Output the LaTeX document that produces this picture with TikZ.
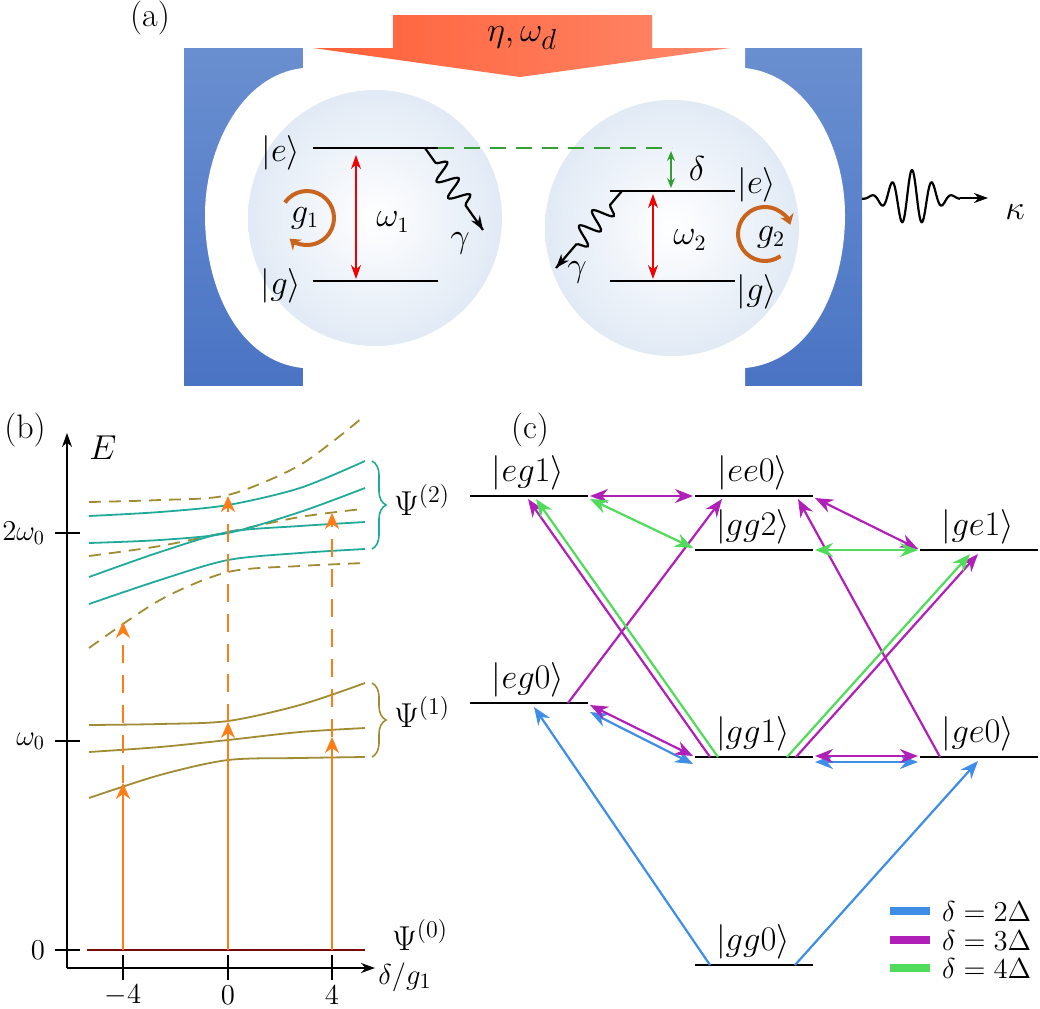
\documentclass[tikz,border=0pt]{standalone}
\usepackage{amsmath}
\usepackage{amssymb}
\usetikzlibrary{arrows.meta,calc,decorations.pathmorphing,decorations.pathreplacing,shadings}

\definecolor{mirrorT}{RGB}{106,143,208}
\definecolor{mirrorB}{RGB}{74,116,196}
\definecolor{pumpL}{RGB}{255,96,56}
\definecolor{pumpR}{RGB}{255,136,106}
\definecolor{atom}{RGB}{225,234,245}
\definecolor{lvlred}{RGB}{240,0,0}
\definecolor{gcol}{RGB}{200,100,30}
\definecolor{dgreen}{RGB}{50,160,50}
\definecolor{olive}{RGB}{160,140,50}
\definecolor{teal2}{RGB}{32,170,154}
\definecolor{orng}{RGB}{255,125,20}
\definecolor{dred}{RGB}{120,10,10}
\definecolor{cblue}{RGB}{62,142,232}
\definecolor{cmag}{RGB}{176,32,184}
\definecolor{cgreen}{RGB}{80,220,90}

\tikzset{
  level/.style={line width=1.2pt},
  lbl/.style={font=\fontsize{16}{19}\selectfont,inner sep=1pt},
  klbl/.style={font=\fontsize{17}{20}\selectfont,inner sep=1pt},
  tip/.style={-{Stealth[length=7pt,width=5pt]}},
  dtip/.style={{Stealth[length=7pt,width=5pt]}-{Stealth[length=7pt,width=5pt]}},
  ctip/.style={line width=1.1pt,-{Stealth[length=9pt,width=7pt]}},
  cdtip/.style={line width=1.1pt,{Stealth[length=9pt,width=7pt]}-{Stealth[length=9pt,width=7pt]}},
  curve/.style={line width=0.9pt},
  emit/.style={decorate,decoration={snake,amplitude=5pt,segment length=10pt,pre length=9pt,post length=14pt},line width=1.1pt},
}

\begin{document}
\begin{tikzpicture}[x=0.5pt,y=-0.5pt]
\useasboundingbox (0,0) rectangle (1040,1008);

% (a) cavity mirrors
\shade[top color=mirrorT,bottom color=mirrorB] (184,48) rectangle (303,385);
\shade[top color=mirrorT,bottom color=mirrorB] (745,48) rectangle (862,385);
\fill[white] (303,48) -- (303,68) .. controls (240,75) and (205,150) .. (205,215) .. controls (205,290) and (240,362) .. (303,368) -- (303,386) -- (745,386) -- (745,368) .. controls (810,362) and (845,290) .. (845,215) .. controls (845,150) and (810,75) .. (745,68) -- (745,48) -- cycle;
% pump arrow
\shade[left color=pumpL,right color=pumpR] (393,15) -- (652,15) -- (652,48) -- (730,48) -- (520,77) -- (313,48) -- (393,48) -- cycle;
\node[font=\fontsize{19}{22}\selectfont] (pump) at (522,38) {$\eta,\omega_d$};
% atoms
\shade[inner color=white,outer color=atom] (375,218) ellipse (127 and 128);
\shade[inner color=white,outer color=atom] (672,228) ellipse (127 and 128);
\node[font=\fontsize{17}{20}\selectfont] (la) at (150,18) {(a)};

% left atom
\draw[level] (313,148) -- (438,148);
\draw[level] (313,281) -- (438,281);
\node[lbl] (e1) at (281,153) {$|e\rangle$};
\node[lbl] (g1s) at (281,286) {$|g\rangle$};
\draw[lvlred,thick,dtip] (356,155) -- (356,279);
\node[lbl] (w1) at (393,222) {$\omega_1$};
\coordinate (c1) at (307,218);
\draw[gcol,line width=2pt,-{Stealth[length=5pt,width=7pt]}] ($(c1)+(145:13.5pt)$) arc[start angle=145,end angle=-130,radius=13.5pt];
\node[lbl] (gg1) at (305,218) {$g_1$};
\draw[emit] (425,148) -- (483,230);
\draw[line width=1.1pt,tip] (478,222) -- (483,230);
\node[lbl] (ga1) at (460,243) {$\gamma$};
\draw[dgreen,thick,dashed,dash pattern=on 8pt off 5pt] (438,148) -- (672,148);

% right atom
\draw[level] (610,191) -- (735,191);
\draw[level] (610,281) -- (735,281);
\node[lbl] (e2) at (757,185) {$|e\rangle$};
\node[lbl] (g2s) at (757,292) {$|g\rangle$};
\draw[dgreen,thick,{Stealth[length=5pt,width=4pt]}-{Stealth[length=5pt,width=4pt]}] (671,151) -- (671,188);
\node[lbl] (dl) at (697,168) {$\delta$};
\draw[lvlred,thick,dtip] (653,194) -- (653,279);
\node[lbl] (w2) at (690,240) {$\omega_2$};
\coordinate (c2) at (765,234);
\draw[gcol,line width=2pt,-{Stealth[length=5pt,width=7pt]}] ($(c2)+(-55:13.5pt)$) arc[start angle=-55,end angle=-340,radius=13.5pt];
\node[lbl] (gg2) at (771,237) {$g_2$};
\draw[emit] (622,191) -- (556,268);
\draw[line width=1.1pt,tip] (562,261) -- (556,268);
\node[lbl] (ga2) at (577,272) {$\gamma$};
% emission
\draw[line width=1.1pt] plot[domain=862:960,samples=250] (\x,{198-28*exp(-((\x-912)/26)^2)*cos(deg((\x-912)/3.2))});
\draw[line width=1.1pt,tip] (960,198) -- (988,198);
\node[font=\fontsize{19}{22}\selectfont] (kap) at (1015,212) {$\kappa$};

% (b) spectrum
\node[font=\fontsize{17}{20}\selectfont] (lb) at (25,430) {(b)};
\draw[thick,tip] (67,968) -- (67,433);
\draw[thick,tip] (67,968) -- (375,968);
\node[klbl] (E) at (103,448) {$E$};
\foreach \yy/\tx in {533/2\omega_0,741/\omega_0,950/0}{
  \draw[thick] (55,\yy) -- (80,\yy);
  \node[font=\fontsize{14}{17}\selectfont,anchor=east] at (52,\yy) {$\tx$};
}
\foreach \xx/\tx in {123/-4,228/0,332/4}{
  \draw[thick] (\xx,955) -- (\xx,980);
  \node[font=\fontsize{14}{17}\selectfont] at (\xx,995) {$\tx$};
}
\node[font=\fontsize{15}{18}\selectfont] (xl) at (405,977) {$\delta/g_1$};
\draw[dred,line width=1.2pt] (87,950) -- (365,950);
\node[klbl] (p0) at (420,935) {$\Psi^{(0)}$};
% olive levels
\draw[olive,curve] plot[smooth] coordinates {(89,725) (160,724) (228,721) (300,705) (365,683)};
\draw[olive,curve] plot[smooth] coordinates {(89,752) (160,747) (228,740) (300,732) (365,728)};
\draw[olive,curve] plot[smooth] coordinates {(89,798) (160,775) (228,760) (300,758) (365,757)};
\draw[olive,curve,dashed,dash pattern=on 6pt off 4pt] plot[smooth] coordinates {(89,502) (160,500) (228,495) (300,465) (362,418)};
\draw[olive,curve,dashed,dash pattern=on 6pt off 4pt] plot[smooth] coordinates {(89,556) (160,546) (228,532) (300,517) (362,509)};
\draw[olive,curve,dashed,dash pattern=on 6pt off 4pt] plot[smooth] coordinates {(89,648) (160,600) (228,572) (300,566) (365,563)};
% teal levels
\draw[teal2,curve] plot[smooth] coordinates {(89,516) (160,512) (228,505) (300,488) (365,461)};
\draw[teal2,curve] plot[smooth] coordinates {(89,543) (160,540) (228,533) (300,512) (365,488)};
\draw[teal2,curve] plot[smooth] coordinates {(89,577) (160,552) (228,532) (300,526) (365,522)};
\draw[teal2,curve] plot[smooth] coordinates {(89,604) (160,580) (228,560) (300,553) (365,549)};
\draw[teal2,thick,decorate,decoration={brace,amplitude=7pt}] (372,461) -- (372,549);
\node[klbl] (p2) at (422,500) {$\Psi^{(2)}$};
\draw[olive,thick,decorate,decoration={brace,amplitude=7pt}] (372,683) -- (372,757);
\node[klbl] (p1) at (422,712) {$\Psi^{(1)}$};
% excitations
\foreach \xx/\ya/\yb in {123/783/622,228/722/496,332/737/513}{
  \draw[orng,line width=1.3pt,-{Stealth[length=8pt,width=7pt]}] (\xx,950) -- (\xx,\ya);
  \draw[orng,line width=1.3pt,dashed,dash pattern=on 9pt off 6pt,-{Stealth[length=8pt,width=7pt]}] (\xx,\ya) -- (\xx,\yb);
}

% (c) level scheme
\node[font=\fontsize{17}{20}\selectfont] (lc) at (530,430) {(c)};
\coordinate (eg1) at (470,496);
\coordinate (ee0) at (695,496);
\coordinate (gg2) at (695,550);
\coordinate (ge1) at (920,550);
\coordinate (eg0) at (470,703);
\coordinate (gg1) at (695,757);
\coordinate (ge0) at (920,757);
\coordinate (gg0) at (695,965);
\foreach \s/\t in {eg1/eg1,ee0/ee0,gg2/gg2,ge1/ge1,eg0/eg0,gg1/gg1,ge0/ge0,gg0/gg0}{
  \draw[level] (\s) -- ++(118,0);
  \node[klbl,anchor=south] at ($(\s)+(58,-3)$) {$|\t\rangle$};
}
% delta = 2Delta
\draw[cblue,ctip] ($(gg0)+(15,0)$) -- ($(eg0)+(64,4)$);
\draw[cblue,ctip] ($(gg0)+(100,0)$) -- ($(ge0)+(58,4)$);
\draw[cblue,cdtip] ($(eg0)+(120,9)$) -- ($(gg1)+(-2,7)$);
\draw[cblue,cdtip] ($(gg1)+(120,5)$) -- ($(ge0)+(-2,5)$);
% delta = 3Delta
\draw[cmag,cdtip] ($(eg0)+(120,2)$) -- ($(gg1)+(-2,-1)$);
\draw[cmag,cdtip] ($(gg1)+(120,-1)$) -- ($(ge0)+(-2,-1)$);
\draw[cmag,ctip] ($(eg0)+(98,0)$) -- ($(ee0)+(27,3)$);
\draw[cmag,ctip] ($(gg1)+(15,0)$) -- ($(eg1)+(58,3)$);
\draw[cmag,ctip] ($(gg1)+(101,0)$) -- ($(ge1)+(58,4)$);
\draw[cmag,ctip] ($(ge0)+(20,0)$) -- ($(ee0)+(103,3)$);
\draw[cmag,cdtip] ($(eg1)+(120,0)$) -- ($(ee0)+(-2,0)$);
\draw[cmag,cdtip] ($(ee0)+(120,2)$) -- ($(ge1)+(-2,-1)$);
% delta = 4Delta
\draw[cgreen,ctip] ($(gg1)+(23,0)$) -- ($(eg1)+(66,3)$);
\draw[cgreen,ctip] ($(gg1)+(92,0)$) -- ($(ge1)+(50,4)$);
\draw[cgreen,cdtip] ($(eg1)+(120,3)$) -- ($(gg2)+(-2,-2)$);
\draw[cgreen,cdtip] ($(gg2)+(120,0)$) -- ($(ge1)+(-2,0)$);
% legend
\foreach \cc/\yy/\tx in {cblue/911/2,cmag/940/3,cgreen/968/4}{
  \draw[\cc,line width=4pt] (890,\yy) -- (930,\yy);
  \node[font=\fontsize{15}{18}\selectfont,anchor=west] at (935,\yy) {$\delta=\tx\Delta$};
}
\end{tikzpicture}
\end{document}
